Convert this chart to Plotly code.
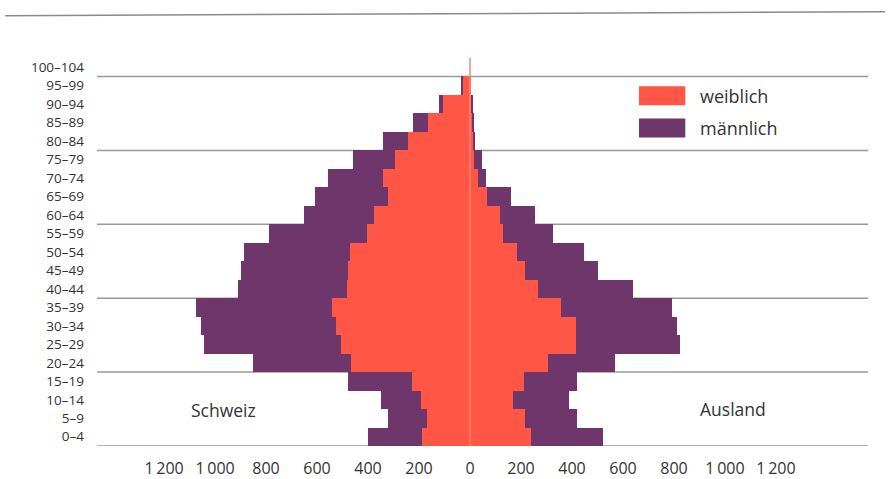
import plotly.graph_objects as go

# Age groups, youngest first (bottom of the pyramid)
age_groups = ["0–4", "5–9", "10–14", "15–19", "20–24", "25–29", "30–34", "35–39",
              "40–44", "45–49", "50–54", "55–59", "60–64", "65–69", "70–74", "75–79",
              "80–84", "85–89", "90–94", "95–99", "100–104"]

# Schweiz (left side)
schweiz_weiblich = [188, 169, 192, 227, 467, 506, 525, 541, 482, 478, 471,
                    404, 378, 322, 341, 294, 243, 163, 104, 31, 0]
schweiz_maennlich = [212, 153, 157, 251, 384, 537, 530, 534, 428, 420, 415,
                     384, 275, 286, 216, 165, 98, 62, 16, 4, 0]

# Ausland (right side)
ausland_weiblich = [239, 216, 169, 212, 306, 416, 416, 357, 267, 216, 184,
                    129, 116, 67, 31, 16, 12, 8, 6, 2, 0]
ausland_maennlich = [283, 204, 219, 208, 263, 408, 396, 435, 372, 286, 263,
                     196, 137, 94, 32, 31, 6, 4, 3, 0, 0]

tick_values = [-1200, -1000, -800, -600, -400, -200, 0, 200, 400, 600, 800, 1000, 1200]
tick_labels = ["1\u2009200", "1\u2009000", "800", "600", "400", "200", "0",
               "200", "400", "600", "800", "1\u2009000", "1\u2009200"]

RED = "#FF5645"
PURPLE = "#6F366B"
TEXT = "#333333"
FONT = "Open Sans"

y_idx = list(range(len(age_groups)))

fig = go.Figure()
fig.add_trace(go.Bar(y=y_idx, x=[-v for v in schweiz_weiblich], orientation="h",
                     marker=dict(color=RED, line=dict(width=0)), name="weiblich"))
fig.add_trace(go.Bar(y=y_idx, x=ausland_weiblich, orientation="h",
                     marker=dict(color=RED, line=dict(width=0)), name="weiblich"))
fig.add_trace(go.Bar(y=y_idx, x=[-v for v in schweiz_maennlich], orientation="h",
                     marker=dict(color=PURPLE, line=dict(width=0)), name="männlich"))
fig.add_trace(go.Bar(y=y_idx, x=ausland_maennlich, orientation="h",
                     marker=dict(color=PURPLE, line=dict(width=0)), name="männlich"))

shapes = []
# horizontal rules every four age groups
for b in [-0.5, 3.5, 7.5, 11.5, 15.5, 19.5]:
    shapes.append(dict(type="line", xref="paper", yref="y", x0=0, x1=1, y0=b, y1=b,
                       line=dict(color="#9a9a9a", width=1.5), layer="below"))
# centre line
shapes.append(dict(type="line", xref="x", yref="y", x0=0, x1=0, y0=-0.5,
                   y1=len(age_groups) - 0.5,
                   line=dict(color="#FF8470", width=1.5), layer="above"))
# rule across the top of the figure
shapes.append(dict(type="line", xref="paper", yref="paper", x0=-0.119, x1=1.022,
                   y0=1.109, y1=1.119, line=dict(color="#8a8a8a", width=1.5)))
# legend swatches
shapes.append(dict(type="rect", xref="paper", yref="paper", x0=0.703, x1=0.763,
                   y0=0.878, y1=0.927, fillcolor=RED, line=dict(width=0)))
shapes.append(dict(type="rect", xref="paper", yref="paper", x0=0.703, x1=0.763,
                   y0=0.795, y1=0.844, fillcolor=PURPLE, line=dict(width=0)))

annotations = [
    dict(xref="paper", yref="paper", x=0.78, y=0.902, text="weiblich",
         showarrow=False, xanchor="left", yanchor="middle",
         font=dict(family=FONT, size=18, color=TEXT)),
    dict(xref="paper", yref="paper", x=0.78, y=0.819, text="männlich",
         showarrow=False, xanchor="left", yanchor="middle",
         font=dict(family=FONT, size=18, color=TEXT)),
    dict(xref="x", yref="y", x=-965, y=1.45, text="Schweiz", showarrow=False,
         font=dict(family=FONT, size=17.5, color=TEXT)),
    dict(xref="x", yref="y", x=1030, y=1.5, text="Ausland", showarrow=False,
         font=dict(family=FONT, size=17.5, color=TEXT)),
]

fig.update_layout(
    width=888, height=479,
    margin=dict(l=97, r=20, t=57.5, b=33, autoexpand=False),
    paper_bgcolor="white", plot_bgcolor="white",
    barmode="relative", bargap=0,
    showlegend=False,
    shapes=shapes, annotations=annotations,
    font=dict(family=FONT, color=TEXT),
)
fig.update_xaxes(range=[-1463, 1561], tickvals=tick_values, ticktext=tick_labels,
                 showgrid=False, zeroline=False, showline=False, ticks="",
                 ticklabelstandoff=11, automargin=False,
                 tickfont=dict(family=FONT, size=16, color=TEXT))
fig.update_yaxes(range=[-0.5, len(age_groups) - 0.5], tickvals=y_idx, ticktext=age_groups,
                 showgrid=False, zeroline=False, showline=False, ticks="",
                 ticklabelstandoff=12, automargin=False,
                 tickfont=dict(family=FONT, size=13.5, color=TEXT))

fig.write_html("out.html")
